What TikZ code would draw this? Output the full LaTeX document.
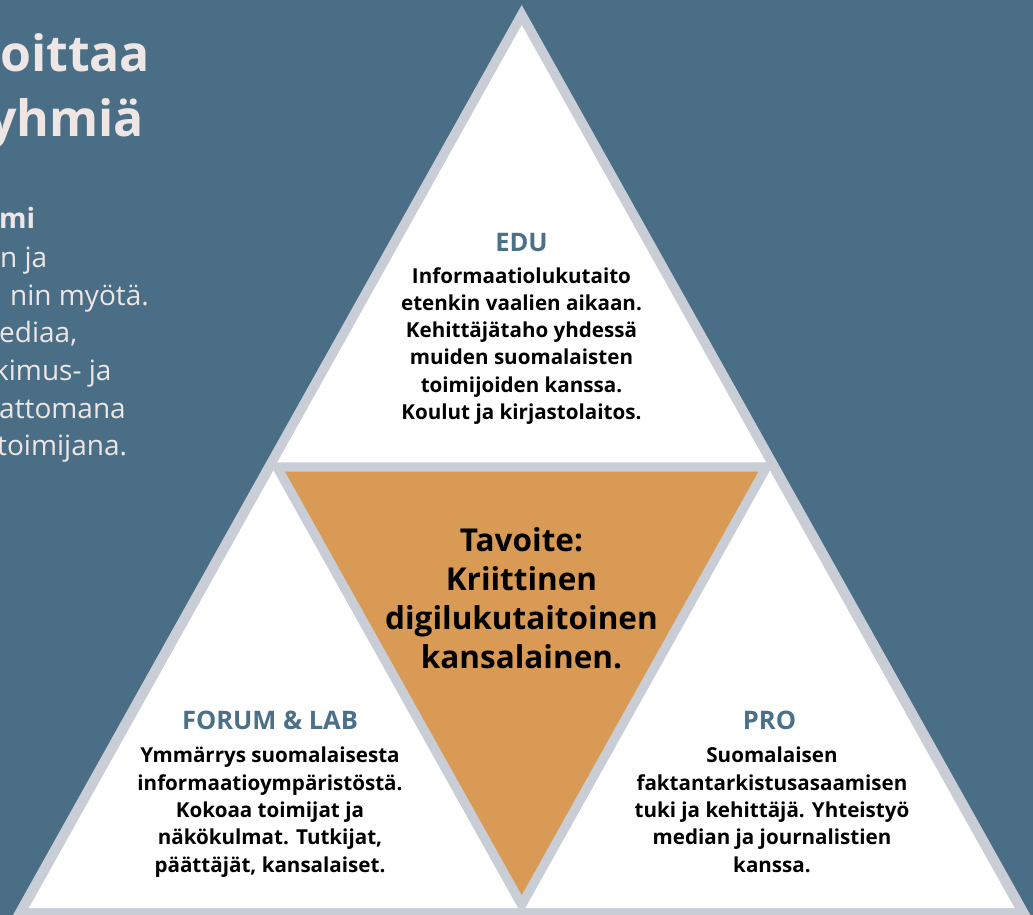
\documentclass[tikz,border=0pt]{standalone}
\usepackage{fontspec}
\setmainfont{Open Sans}
\usetikzlibrary{positioning}

\definecolor{slate}{HTML}{4A6E86}
\definecolor{rim}{HTML}{C8CDD6}
\definecolor{goal}{HTML}{D99A55}
\definecolor{headblue}{HTML}{4B7089}
\definecolor{pale}{HTML}{EDE6E4}

\begin{document}
\begin{tikzpicture}[x=1pt, y=-1pt,
    head/.style={font=\fontsize{25.5}{30}\selectfont\bfseries, text=headblue, inner sep=0pt, anchor=base},
    body/.style={font=\fontsize{20.6}{27.3}\selectfont\bfseries, align=center, inner sep=0pt, anchor=base},
    side/.style={font=\fontsize{28}{38}\selectfont, text=pale, inner sep=0pt, anchor=base west}]
    \useasboundingbox (0,0) rectangle (1033,915);
    \clip (0,0) rectangle (1033,915);
    \fill[slate] (0,0) rectangle (1033,915);

    % cut-off title and text on the left
    \node[side, font=\fontsize{50}{60}\selectfont\bfseries] (title1) at (0,72) {oittaa};
    \node[side, font=\fontsize{50}{60}\selectfont\bfseries] (title2) at (-12,137) {yhmiä};
    \node[side, font=\fontsize{28}{38}\selectfont\bfseries] (line1) at (-1,228) {mi};
    \node[side] (line2) at (0,267) {n ja};
    \node[side] (line3) at (10,305) {nin myötä.};
    \node[side] (line4) at (-1,342) {ediaa,};
    \node[side] (line5) at (-6,380) {kimus- ja};
    \node[side] (line6) at (-1,418) {attomana};
    \node[side] (line7) at (-3,455) {toimijana.};

    % triangles
    \coordinate (apex) at (521.7,5);
    \fill[rim] (apex) -- (4.6,930) -- (1038.8,930) -- cycle;
    \fill[white] (521.7,25) -- (277.3,462.3) -- (766.1,462.3) -- cycle;
    \fill[white] (273.4,470.6) -- (28.9,908) -- (518,908) -- cycle;
    \fill[white] (770,470.6) -- (525.4,908) -- (1014.5,908) -- cycle;
    \fill[goal] (285.1,471.7) -- (758.3,471.7) -- (521.7,895) -- cycle;

    % texts (base = last line)
    \node[head] (edu) at (521.5,251) {EDU};
    \node[body] (edutext) at (521.5,419.5) {Informaatiolukutaito\\etenkin vaalien aikaan.\\Kehittäjätaho yhdessä\\muiden suomalaisten\\toimijoiden kanssa.\\Koulut ja kirjastolaitos.};

    \node[head] (forum) at (270,729) {FORUM \& LAB};
    \node[body] (forumtext) at (270,872) {Ymmärrys suomalaisesta\\informaatioympäristöstä.\\Kokoaa toimijat ja\\näkökulmat. Tutkijat,\\päättäjät, kansalaiset.};

    \node[head] (pro) at (769.5,729) {PRO};
    \node[body] (protext) at (772,872) {Suomalaisen\\faktantarkistusasaamisen\\tuki ja kehittäjä. Yhteistyö\\median ja journalistien\\kanssa.};

    \node[body, font=\fontsize{31.5}{39}\selectfont\bfseries] (goaltext) at (521.5,668) {Tavoite:\\Kriittinen\\digilukutaitoinen\\kansalainen.};
\end{tikzpicture}
\end{document}
